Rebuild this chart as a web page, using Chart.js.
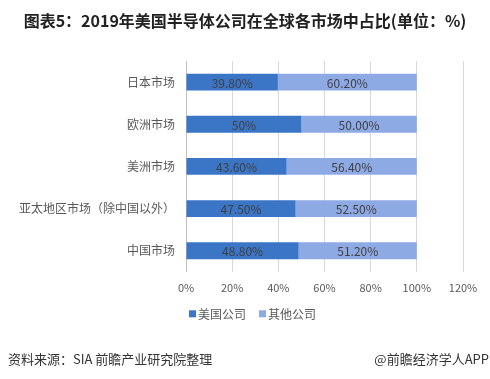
<!DOCTYPE html>
<html><head><meta charset="utf-8">
<script src="https://cdn.jsdelivr.net/npm/chart.js@4"></script>
<style>
html,body{margin:0;padding:0;background:#fff;}
body{width:490px;height:379px;position:relative;overflow:hidden;font-family:"Noto Sans CJK SC","Noto Sans",sans-serif;}
#title{position:absolute;left:0;top:8px;width:490px;text-align:center;font-size:16px;font-weight:bold;color:#222;white-space:nowrap;}
#src{position:absolute;left:8px;top:349px;font-size:13px;color:#333;white-space:nowrap;}
#brand{position:absolute;right:1px;top:349px;font-size:13px;color:#333;white-space:nowrap;}
#wrap{position:absolute;left:0;top:0;width:490px;height:379px;}
</style></head>
<body>
<div id="wrap"><canvas id="c" width="490" height="379"></canvas></div>
<div id="title">图表5：2019年美国半导体公司在全球各市场中占比(单位：%)</div>
<div id="src">资料来源：SIA 前瞻产业研究院整理</div>
<div id="brand">@前瞻经济学人APP</div>
<script>
const categories = ["日本市场","欧洲市场","美洲市场","亚太地区市场（除中国以外）","中国市场"];
const seriesNames = ["美国公司","其他公司"];
const usValues = [39.8, 50, 43.6, 47.5, 48.8];
const otherValues = [60.2, 50, 56.4, 52.5, 51.2];
const usLabels = ["39.80%","50%","43.60%","47.50%","48.80%"];
const otherLabels = ["60.20%","50.00%","56.40%","52.50%","51.20%"];
const xTicks = [0,20,40,60,80,100,120];

const FONT = '"Noto Sans CJK SC","Noto Sans",sans-serif';

const segLabels = {
  id:'segLabels',
  afterDatasetsDraw(chart){
    const ctx = chart.ctx;
    ctx.save();
    ctx.font = '12px ' + FONT;
    ctx.fillStyle = '#404040';
    ctx.textAlign = 'center';
    ctx.textBaseline = 'middle';
    chart.data.datasets.forEach((ds, di) => {
      const meta = chart.getDatasetMeta(di);
      meta.data.forEach((el, i) => {
        const p = el.getCenterPoint();
        ctx.fillText(ds.segTexts[i], p.x, p.y + 1);
      });
    });
    ctx.restore();
  }
};

const bottomLegend = {
  id:'bottomLegend',
  afterDraw(chart){
    const ctx = chart.ctx;
    ctx.save();
    ctx.font = '12px ' + FONT;
    ctx.textBaseline = 'middle';
    ctx.textAlign = 'left';
    const box = 7, gap = 2, spacing = 13;
    const items = chart.data.datasets.map(ds => ({text: ds.label, color: ds.backgroundColor, w: ctx.measureText(ds.label).width}));
    let total = 0;
    items.forEach((it, i) => { total += box + gap + it.w + (i ? spacing : 0); });
    let x = chart.width / 2 + 7.5 - total / 2;
    const y = chart.chartArea.bottom + 42;
    items.forEach((it, i) => {
      if (i) x += spacing;
      ctx.fillStyle = it.color;
      ctx.fillRect(x, y - box/2, box, box);
      x += box + gap;
      ctx.fillStyle = '#595959';
      ctx.fillText(it.text, x, y + 1);
      x += it.w;
    });
    ctx.restore();
  }
};

new Chart(document.getElementById('c'), {
  type:'bar',
  data:{
    labels: categories,
    datasets:[
      {label: seriesNames[0], data: usValues, segTexts: usLabels, backgroundColor:'#3A75C6', borderWidth:0, categoryPercentage:0.4, barPercentage:1},
      {label: seriesNames[1], data: otherValues, segTexts: otherLabels, backgroundColor:'#8EAAE5', borderWidth:0, categoryPercentage:0.4, barPercentage:1}
    ]
  },
  options:{
    indexAxis:'y',
    responsive:false,
    animation:false,
    devicePixelRatio:1,
    layout:{padding:{top:61, right:27, left:0, bottom:76}},
    scales:{
      x:{
        stacked:true, min:0, max:120,
        afterBuildTicks(scale){ scale.ticks = xTicks.map(v=>({value:v})); },
        grid:{color:'#d9d9d9', drawTicks:false, lineWidth:1},
        border:{display:false},
        ticks:{padding:9, color:'#595959', font:{family:FONT, size:11}, callback:(v)=>v+'%'}
      },
      y:{
        stacked:true,
        afterFit(scale){ scale.width = 186; },
        grid:{display:false, drawTicks:false},
        border:{display:true, color:'#bfbfbf'},
        ticks:{padding:11, color:'#595959', font:{family:FONT, size:12}}
      }
    },
    plugins:{
      legend:{display:false},
      tooltip:{enabled:false},
      title:{display:false}
    }
  },
  plugins:[segLabels, bottomLegend]
});
</script>
</body></html>
